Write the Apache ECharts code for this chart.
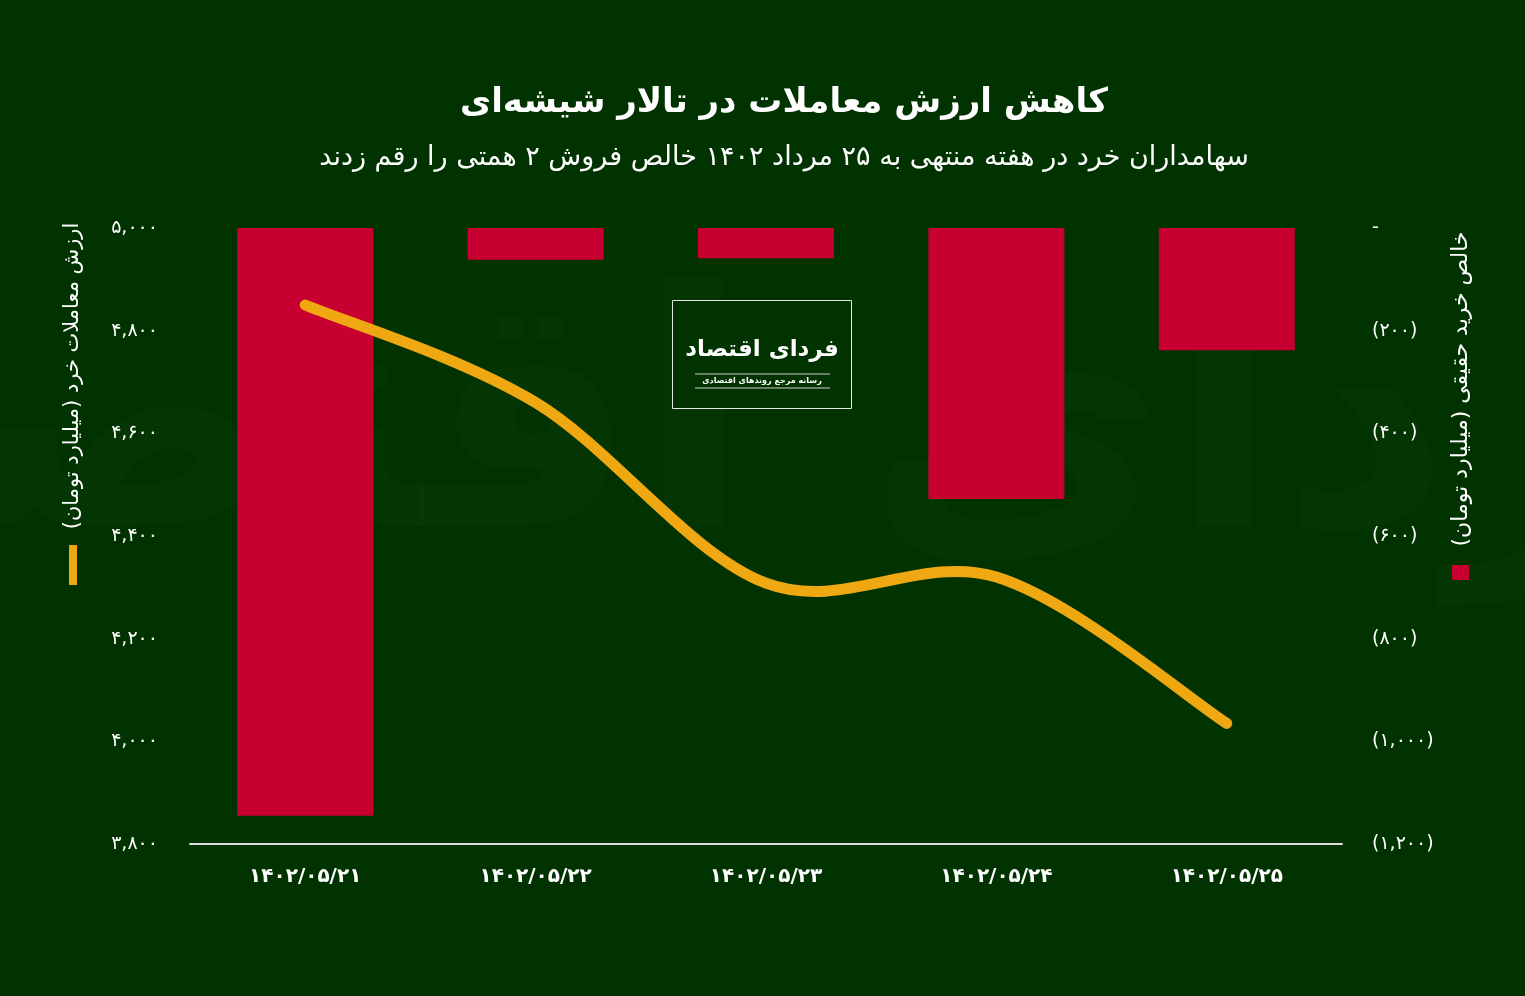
<!DOCTYPE html>
<html>
<head>
<meta charset="utf-8">
<script src="https://cdn.jsdelivr.net/npm/echarts@6/dist/echarts.min.js"></script>
<style>
html,body{margin:0;padding:0;background:#003300;}
#c{width:1525px;height:996px;}
</style>
</head>
<body>
<div id="c" dir="rtl"></div>
<script>
const categories = ['۱۴۰۲/۰۵/۲۱', '۱۴۰۲/۰۵/۲۲', '۱۴۰۲/۰۵/۲۳', '۱۴۰۲/۰۵/۲۴', '۱۴۰۲/۰۵/۲۵'];
const netRealBuy = [-1145, -62, -59, -528, -238];
const retailValue = [4850, 4660, 4308, 4320, 4035];

const titleText = 'کاهش ارزش معاملات در تالار شیشه‌ای';
const subtitleText = 'سهامداران خرد در هفته منتهی به ۲۵ مرداد ۱۴۰۲ خالص فروش ۲ همتی را رقم زدند';
const leftName = 'ارزش معاملات خرد (میلیارد تومان)\u200F';
const rightName = 'خالص خرید حقیقی (میلیارد تومان)\u200F';

const FONT = '"DejaVu Sans", "Noto Sans", sans-serif';
const fa = s => String(s).replace(/[0-9]/g, d => '۰۱۲۳۴۵۶۷۸۹'[d]);
const fmt = v => fa(Math.abs(v).toLocaleString('en-US'));

// Catmull-Rom style smooth path through the points given by the axis scales
function smoothPath(pts) {
  let d = 'M' + pts[0][0] + ' ' + pts[0][1];
  for (let i = 0; i < pts.length - 1; i++) {
    const p0 = pts[Math.max(i - 1, 0)], p1 = pts[i], p2 = pts[i + 1], p3 = pts[Math.min(i + 2, pts.length - 1)];
    const c1 = [p1[0] + (p2[0] - p0[0]) / 6, p1[1] + (p2[1] - p0[1]) / 6];
    const c2 = [p2[0] - (p3[0] - p1[0]) / 6, p2[1] - (p3[1] - p1[1]) / 6];
    d += ' C' + c1[0] + ' ' + c1[1] + ' ' + c2[0] + ' ' + c2[1] + ' ' + p2[0] + ' ' + p2[1];
  }
  return d;
}

const chart = echarts.init(document.getElementById('c'));
chart.setOption({
  backgroundColor: '#003300',
  textStyle: { fontFamily: FONT },
  grid: { left: 190, right: 183, top: 228, bottom: 152, containLabel: false },
  xAxis: {
    type: 'category',
    data: categories,
    axisLine: { onZero: false, lineStyle: { color: '#dcdcdc', width: 2 } },
    axisTick: { show: false },
    axisLabel: { color: '#ffffff', fontSize: 20, fontWeight: 'bold', margin: 23, fontFamily: FONT },
    splitLine: { show: false }
  },
  yAxis: [
    {
      type: 'value', min: 3800, max: 5000, interval: 200, position: 'left',
      axisLine: { show: false }, axisTick: { show: false }, splitLine: { show: false },
      axisLabel: { color: '#ffffff', fontSize: 19, margin: 32, fontFamily: FONT, formatter: v => fmt(v) }
    },
    {
      type: 'value', min: -1200, max: 0, interval: 200, position: 'right',
      axisLine: { show: false }, axisTick: { show: false }, splitLine: { show: false },
      axisLabel: { color: '#ffffff', fontSize: 19, margin: 30, fontFamily: FONT,
        formatter: v => v === 0 ? '-' : '(' + fmt(v) + ')' }
    }
  ],
  series: [
    {
      type: 'bar', yAxisIndex: 1, data: netRealBuy, barWidth: 136,
      itemStyle: { color: '#c80032' }, z: 2
    },
    {
      type: 'custom', yAxisIndex: 0, z: 5,
      data: retailValue.map((v, i) => [i, v]),
      encode: { x: 0, y: 1 },
      renderItem: function (params, api) {
        if (params.dataIndex !== 0) return null;
        const pts = retailValue.map((v, i) => api.coord([i, v]));
        return {
          type: 'path',
          shape: { pathData: smoothPath(pts) },
          style: { fill: 'none', stroke: '#f0a812', lineWidth: 11, lineCap: 'round', lineJoin: 'round' }
        };
      }
    }
  ],
  graphic: [
    // faint watermark
    { type: 'text', x: 770, y: 440, z: 0, silent: true,
      style: { text: 'فردای اقتصاد', fill: 'rgba(255,255,255,0.014)', font: 'bold 330px ' + FONT, align: 'center', verticalAlign: 'middle' } },
    // titles
    { type: 'text', x: 784, y: 103, z: 10,
      style: { text: titleText, fill: '#ffffff', font: 'bold 34px ' + FONT, align: 'center', verticalAlign: 'middle' } },
    { type: 'text', x: 784, y: 158, z: 10,
      style: { text: subtitleText, fill: '#ffffff', font: '27px ' + FONT, align: 'center', verticalAlign: 'middle' } },
    // left axis name
    { type: 'text', x: 73, y: 376, rotation: Math.PI / 2, z: 10,
      style: { text: leftName, fill: '#ffffff', font: '21px ' + FONT, align: 'center', verticalAlign: 'middle' } },
    { type: 'rect', shape: { x: 69, y: 545, width: 8, height: 40 }, style: { fill: '#f0a812' }, z: 10 },
    // right axis name
    { type: 'text', x: 1461, y: 389, rotation: Math.PI / 2, z: 10,
      style: { text: rightName, fill: '#ffffff', font: '22px ' + FONT, align: 'center', verticalAlign: 'middle' } },
    { type: 'rect', shape: { x: 1452, y: 565, width: 17, height: 15 }, style: { fill: '#c80032' }, z: 10 },
    // logo box
    { type: 'rect', shape: { x: 672.5, y: 300.5, width: 179, height: 108 },
      style: { fill: '#003300', stroke: '#e6e6e6', lineWidth: 1 }, z: 3 },
    { type: 'text', x: 762, y: 350, z: 4,
      style: { text: 'فردای اقتصاد', fill: '#ffffff', font: 'bold 23px ' + FONT, align: 'center', verticalAlign: 'middle' } },
    { type: 'line', shape: { x1: 695, y1: 374, x2: 830, y2: 374 }, style: { stroke: '#cfcfcf', lineWidth: 1 }, z: 4 },
    { type: 'text', x: 762, y: 381, z: 4,
      style: { text: 'رسانه مرجع روندهای اقتصادی', fill: '#ffffff', font: 'bold 8px ' + FONT, align: 'center', verticalAlign: 'middle' } },
    { type: 'line', shape: { x1: 695, y1: 388, x2: 830, y2: 388 }, style: { stroke: '#cfcfcf', lineWidth: 1 }, z: 4 }
  ]
});
</script>
</body>
</html>
